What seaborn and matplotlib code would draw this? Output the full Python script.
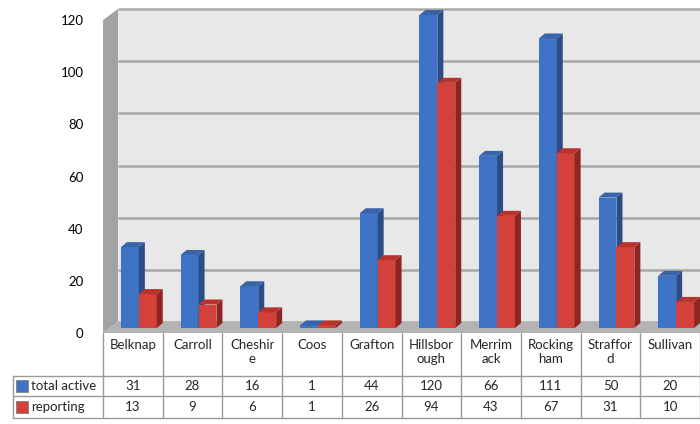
import numpy as np
import pandas as pd
import matplotlib
matplotlib.use("Agg")
import matplotlib.pyplot as plt
import seaborn as sns
from matplotlib.patches import Polygon, Rectangle
from matplotlib.transforms import ScaledTranslation, Affine2D

# ---------------- data ----------------
counties = ["Belknap", "Carroll", "Cheshire", "Coos", "Grafton", "Hillsborough",
            "Merrimack", "Rockingham", "Strafford", "Sullivan"]
header_labels = ["Belknap", "Carroll", "Cheshir\ne", "Coos", "Grafton", "Hillsbor\nough",
                 "Merrim\nack", "Rocking\nham", "Straffor\nd", "Sullivan"]
series_names = ["total active", "reporting"]
total_active = [31, 28, 16, 1, 44, 120, 66, 111, 50, 20]
reporting = [13, 9, 6, 1, 26, 94, 43, 67, 31, 10]
y_ticks = [0, 20, 40, 60, 80, 100, 120]

# ---------------- style ----------------
sns.set_theme(style="white")
plt.rcParams['font.family'] = ['Lato', 'DejaVu Sans']
FS = 9.5
blue, red = "#3f73c6", "#d2413a"
blue_side, blue_top = "#2b4c86", "#3a64a8"
red_side, red_top = "#8f2522", "#b8332e"

W, H = 700, 424
fig = plt.figure(figsize=(7, 4.24), dpi=100)
fig.patch.set_facecolor("white")

def px(x0, y0, x1, y1):
    return [x0 / W, 1 - y1 / H, (x1 - x0) / W, (y1 - y0) / H]

pxT = Affine2D().scale(1 / W, -1 / H).translate(0, 1) + fig.transFigure

ax = fig.add_axes(px(103, 20, 700, 333))
df = pd.DataFrame({
    "county": counties * 2,
    "value": total_active + reporting,
    "series": [series_names[0]] * len(counties) + [series_names[1]] * len(counties),
})
sns.barplot(data=df, x="county", y="value", hue="series", order=counties,
            hue_order=series_names, palette=[blue, red], width=0.6,
            saturation=1, legend=False, ax=ax, errorbar=None)
ax.set_xlim(-0.5, len(counties) - 0.5)
ax.set_ylim(0, 120)
ax.set_yticks(y_ticks)
ax.tick_params(axis='y', length=0, pad=14, labelsize=FS, colors="black")
ax.tick_params(axis='x', length=0, labelbottom=False)
ax.set_xlabel("")
ax.set_ylabel("")
for s in ax.spines.values():
    s.set_visible(False)
ax.patch.set_visible(False)

bars = list(ax.patches)

# depth offsets (pixels -> data units)
def d2data(dxp, dyp):
    p0 = ax.transData.transform((0, 0))
    q = ax.transData.inverted().transform(p0 + np.array([dxp, dyp]))
    return q[0], q[1]

wall_dx, wall_dy = d2data(15, 11)
x0, x1 = -0.5, len(counties) - 0.5

# back wall
back = Rectangle((x0 + wall_dx, wall_dy), x1 - x0, 120, facecolor="#e8e8e8",
                 edgecolor="none", clip_on=False, zorder=0.1)
ax.add_patch(back)
ax.hlines([t + wall_dy for t in y_ticks], x0 + wall_dx, x1 + wall_dx + 1,
          color="#a8a8a8", lw=1.8, clip_on=False, zorder=0.3)
# left wall
ax.add_patch(Polygon([(x0, 0), (x0, 120), (x0 + wall_dx, 120 + wall_dy), (x0 + wall_dx, wall_dy)],
                     closed=True, facecolor="#a3a3a3", edgecolor="none", clip_on=False, zorder=0.4))
# floor
ax.add_patch(Polygon([(x0, 0), (x1 + 1, 0), (x1 + 1, wall_dy), (x0 + wall_dx, wall_dy)],
                     closed=True, facecolor="#b3b3b3", edgecolor="none", clip_on=False, zorder=0.4))

# 3D bars
sd_x, sd_y = d2data(6, 5)
bar_tr = ax.transData + ScaledTranslation(6 / 100, 5 / 100, fig.dpi_scale_trans)
n = len(counties)
for i, b in enumerate(bars):
    is_red = i >= n
    z = 2.2 if is_red else 2.0
    b.set_transform(bar_tr)
    b.set_zorder(z)
    b.set_edgecolor("none")
    b.set_clip_on(False)
    bx, bw, bh = b.get_x(), b.get_width(), b.get_height()
    side = Polygon([(bx + bw, 0), (bx + bw, bh), (bx + bw + sd_x, bh + sd_y), (bx + bw + sd_x, sd_y)],
                   closed=True, facecolor=red_side if is_red else blue_side, edgecolor="none",
                   transform=bar_tr, clip_on=False, zorder=z + 0.1)
    top = Polygon([(bx, bh), (bx + bw, bh), (bx + bw + sd_x, bh + sd_y), (bx + sd_x, bh + sd_y)],
                  closed=True, facecolor=red_top if is_red else blue_top, edgecolor="none",
                  transform=bar_tr, clip_on=False, zorder=z + 0.1)
    ax.add_patch(side)
    ax.add_patch(top)

# ---------------- data table ----------------
col_w = (700 - 103) / n
tax = fig.add_axes(px(13, 333, 700, 418))
tax.set_xlim(x0 - (103 - 13) / col_w, x1)
tax.set_ylim(85, 0)
tax.axis("off")
lc, lw = "#9a9a9a", 1.0
xl = x0 - (103 - 13) / col_w
for k in range(n + 1):
    tax.plot([x0 + k, x0 + k], [0, 85], color=lc, lw=lw, clip_on=False)
tax.plot([xl, xl], [43, 85], color=lc, lw=lw, clip_on=False)
for yy in (43, 63, 85):
    tax.plot([xl, x1], [yy, yy], color=lc, lw=lw, clip_on=False)

for i, lab in enumerate(header_labels):
    tax.text(i, 6, lab, ha="center", va="top", fontsize=FS, linespacing=1.2)
for row_y, vals in ((53, total_active), (74, reporting)):
    for i, v in enumerate(vals):
        tax.text(i, row_y, str(v), ha="center", va="center", fontsize=FS)

# row headers with legend keys
for (cy, name, col) in ((386, series_names[0], blue), (407, series_names[1], red)):
    fig.patches.append(Rectangle((16, cy - 6), 12, 12, transform=pxT, facecolor=col,
                                 edgecolor="#7f7f7f", lw=0.6))
    fig.text(31, cy, name, transform=pxT, ha="left", va="center", fontsize=FS)

fig.savefig("out.png", dpi=100, facecolor="white")
